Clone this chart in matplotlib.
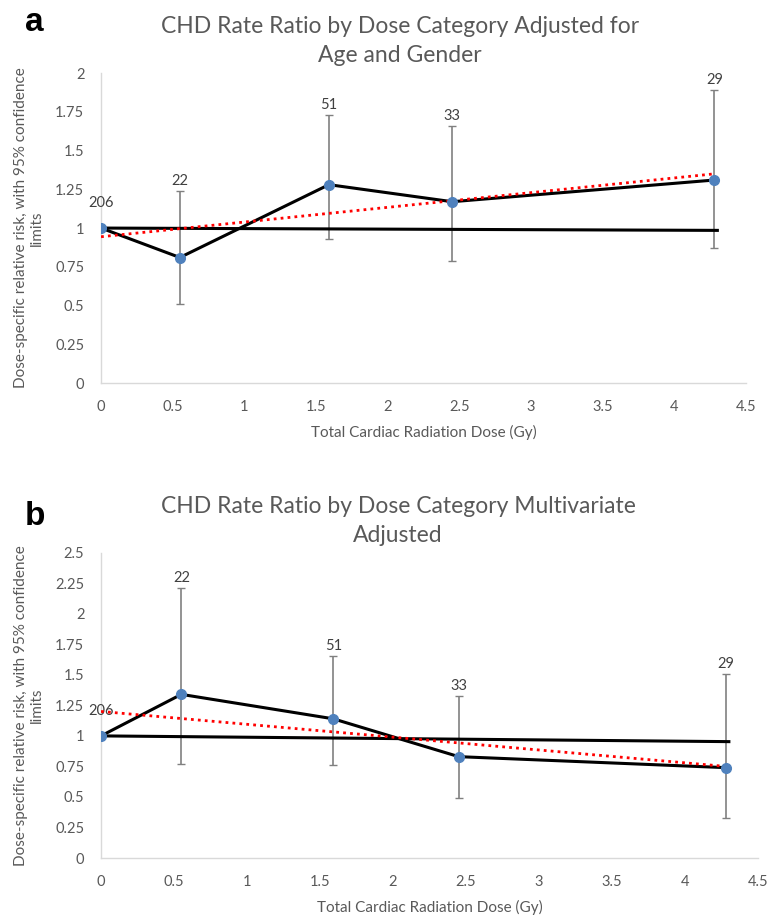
import matplotlib.pyplot as plt
import numpy as np

plt.rcParams['font.family'] = ['Lato', 'DejaVu Sans']

# data
dose = [0, 0.55, 1.59, 2.45, 4.28]
counts = ['206', '22', '51', '33', '29']

rr_a = [1.0, 0.81, 1.28, 1.17, 1.31]
lo_a = [1.0, 0.51, 0.93, 0.79, 0.87]
hi_a = [1.0, 1.24, 1.73, 1.66, 1.89]

rr_b = [1.0, 1.34, 1.14, 0.83, 0.74]
lo_b = [1.0, 0.77, 0.76, 0.49, 0.33]
hi_b = [1.0, 2.21, 1.655, 1.33, 1.505]

# flat reference line and linear trend (endpoints)
ref_x = [0, 4.3]
ref_a = [1.0, 0.985]
ref_b = [1.0, 0.953]
trend_x = [0, 4.28]
trend_a = [0.944, 1.35]
trend_b = [1.2, 0.75]

titles = ['CHD Rate Ratio by Dose Category Adjusted for\nAge and Gender',
          'CHD Rate Ratio by Dose Category Multivariate\nAdjusted']
ylab = 'Dose-specific relative risk, with 95% confidence\nlimits'
xlab = 'Total Cardiac Radiation Dose (Gy)'

grey = '#595959'

fig = plt.figure(figsize=(7.73, 9.17), dpi=100)
ax_a = fig.add_axes([0.1307, 0.5823, 0.8344, 0.338])
ax_b = fig.add_axes([0.1307, 0.0643, 0.85, 0.333])


def draw(ax, rr, lo, hi, ref, trend, ymax, title, tx):
    rr = np.array(rr)
    err = [rr - np.array(lo), np.array(hi) - rr]
    ax.errorbar(dose[1:], rr[1:], yerr=[err[0][1:], err[1][1:]], fmt='none',
                ecolor='#808080', elinewidth=1.2, capsize=3, capthick=1, zorder=2)
    ax.plot(ref_x, ref, color='black', lw=2.2, zorder=3)
    ax.plot(dose, rr, color='black', lw=2.2, zorder=3)
    ax.plot(trend_x, trend, color='red', lw=2, ls=(0, (1, 1.5)), zorder=4)
    ax.plot(dose, rr, 'o', color='#4f81bd', ms=7, zorder=5)
    for i in range(len(dose)):
        if i == 0:
            ax.annotate(counts[i], (dose[i], rr[i]), xytext=(0, 13),
                        textcoords='offset points', ha='center', va='bottom',
                        fontsize=10.5, color='#404040')
        else:
            ax.annotate(counts[i], (dose[i], hi[i]), xytext=(0, 2),
                        textcoords='offset points', ha='center', va='bottom',
                        fontsize=10.5, color='#404040')
    ax.set_xlim(0, 4.5)
    ax.set_ylim(0, ymax)
    ax.set_xticks(np.arange(0, 4.51, 0.5))
    ax.set_xticklabels(['0', '0.5', '1', '1.5', '2', '2.5', '3', '3.5', '4', '4.5'])
    yt = np.arange(0, ymax + 0.01, 0.25)
    ax.set_yticks(yt)
    ax.set_yticklabels([('%g' % v) for v in yt])
    ax.tick_params(length=0, labelsize=10.5, colors=grey, pad=12)
    for s in ['top', 'right']:
        ax.spines[s].set_visible(False)
    for s in ['left', 'bottom']:
        ax.spines[s].set_color('#d9d9d9')
        ax.spines[s].set_linewidth(1)
    ax.set_xlabel(xlab, fontsize=11, color=grey, labelpad=8)
    ax.set_ylabel(ylab, fontsize=11, color=grey, labelpad=8)
    ax.set_title(title, fontsize=16.5, color=grey, pad=8, linespacing=1.45, x=tx)


draw(ax_a, rr_a, lo_a, hi_a, ref_a, trend_a, 2, titles[0], 0.464)
draw(ax_b, rr_b, lo_b, hi_b, ref_b, trend_b, 2.5, titles[1], 0.452)

fig.text(0.032, 0.975, 'a', fontsize=24, fontweight='bold', ha='left', va='center',
         family='Liberation Sans')
fig.text(0.032, 0.437, 'b', fontsize=24, fontweight='bold', ha='left', va='center',
         family='Liberation Sans')

fig.savefig('out.png', dpi=100)
